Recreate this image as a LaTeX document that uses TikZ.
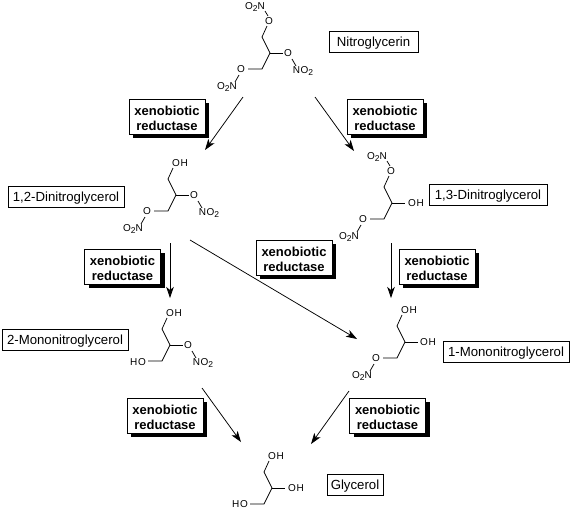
\documentclass[tikz,border=0pt]{standalone}
\usepackage{fontspec}
\setmainfont{Liberation Sans}
\usetikzlibrary{arrows.meta,shadows}
\newcommand{\subtwo}{\raisebox{-2.2pt}{\fontsize{8.5}{8.5}\selectfont 2}}
\newcommand{\otwon}{O\subtwo N}
\newcommand{\notwo}{NO\subtwo}
\tikzset{
  bond/.style={line width=0.75pt,line join=miter},
  atom/.style={inner sep=0pt,font=\fontsize{10}{10}\selectfont\addfontfeature{LetterSpace=6}},
  namebox/.style={draw=black,line width=0.8pt,fill=white,inner sep=0pt,text height=12pt,text depth=3pt,font=\fontsize{13.2}{13.2}\selectfont},
  enzyme/.style={draw=black,line width=0.8pt,fill=white,inner sep=0pt,minimum width=76pt,minimum height=35pt,align=center,
    text height=28pt,text depth=0pt,
    font=\fontsize{13}{15}\bfseries\selectfont,
    drop shadow={shadow xshift=4pt,shadow yshift=-4pt,fill=black,opacity=1}},
  react/.style={line width=0.75pt,-{Stealth[length=11pt,width=7.5pt,inset=3pt]}}
}
% glycerol skeleton: #1 name, centre at (#2,#3)
\newcommand{\molskel}[3]{%
  \begin{scope}[shift={(#2,#3)}]
    \coordinate (#1-c) at (0,0);
    \coordinate (#1-t) at (-8,-16);
    \coordinate (#1-u) at (-3,-27);
    \coordinate (#1-r) at (13,0);
    \coordinate (#1-l) at (-8,16);
    \coordinate (#1-w) at (-22,16);
    \draw[bond] (#1-u) -- (#1-t) -- (#1-c) -- (#1-l) -- (#1-w);
    \draw[bond] (#1-c) -- (#1-r);
  \end{scope}}
% top O-NO2
\newcommand{\topnitro}[1]{%
  \node[atom] (#1-to) at ([shift={(2,-5)}]#1-u) {O};
  \node[atom] (#1-tn) at ([shift={(-12,-19)}]#1-u) {\otwon};
  \coordinate (#1-tb1) at ([shift={(-1,-5)}]#1-to.center);
  \coordinate (#1-tb2) at ([shift={(-4,-10)}]#1-to.center);
  \draw[bond] (#1-tb1) -- (#1-tb2);}
% lower-left O-NO2
\newcommand{\leftnitro}[1]{%
  \node[atom] (#1-wo) at ([shift={(-7,0)}]#1-w) {O};
  \node[atom] (#1-wn) at ([shift={(-21,18)}]#1-w) {\otwon};
  \coordinate (#1-wb1) at ([shift={(-2,6)}]#1-wo.center);
  \coordinate (#1-wb2) at ([shift={(-6,13)}]#1-wo.center);
  \draw[bond] (#1-wb1) -- (#1-wb2);}
% right O-NO2
\newcommand{\rightnitro}[1]{%
  \node[atom] (#1-ro) at ([shift={(5,0)}]#1-r) {O};
  \node[atom] (#1-rn) at ([shift={(20,18)}]#1-r) {\notwo};
  \coordinate (#1-rb1) at ([shift={(4,6)}]#1-ro.center);
  \coordinate (#1-rb2) at ([shift={(8,13)}]#1-ro.center);
  \draw[bond] (#1-rb1) -- (#1-rb2);}
\begin{document}
\begin{tikzpicture}[x=1pt,y=-1pt]
\useasboundingbox[fill=white] (0,0) rectangle (570,509);

% Nitroglycerin
\molskel{ng}{270}{53}
\topnitro{ng}\rightnitro{ng}\leftnitro{ng}
% 1,2-Dinitroglycerol
\molskel{dd}{176}{195}
\node[atom] (dd-oh) at ([shift={(7,-5)}]dd-u) {OH};
\rightnitro{dd}\leftnitro{dd}
% 1,3-Dinitroglycerol
\molskel{dt}{392}{203}
\topnitro{dt}\leftnitro{dt}
\node[atom] (dt-oh) at ([shift={(11,0)}]dt-r) {OH};
% 2-Mononitroglycerol
\molskel{mt}{170}{345}
\node[atom] (mt-oh) at ([shift={(7,-5)}]mt-u) {OH};
\rightnitro{mt}
\node[atom] (mt-ho) at ([shift={(-10,1)}]mt-w) {HO};
% 1-Mononitroglycerol
\molskel{mo}{405}{342}
\node[atom] (mo-oh) at ([shift={(7,-5)}]mo-u) {OH};
\node[atom] (mo-or) at ([shift={(10,0)}]mo-r) {OH};
\leftnitro{mo}
% Glycerol
\molskel{gl}{272}{488}
\node[atom] (gl-oh) at ([shift={(7,-5)}]gl-u) {OH};
\node[atom] (gl-or) at ([shift={(11,0)}]gl-r) {OH};
\node[atom] (gl-ho) at ([shift={(-10,0)}]gl-w) {HO};

% compound names
\node[namebox,minimum width=89pt,minimum height=21pt] (n1) at (373.5,41.5) {Nitroglycerin};
\node[namebox,minimum width=116pt,minimum height=21pt] (n2) at (66,196.5) {1,2-Dinitroglycerol};
\node[namebox,minimum width=118pt,minimum height=21pt] (n3) at (488,194.5) {1,3-Dinitroglycerol};
\node[namebox,minimum width=126pt,minimum height=21pt] (n4) at (65,339.5) {2-Mononitroglycerol};
\node[namebox,minimum width=126pt,minimum height=21pt] (n5) at (506,351.5) {1-Mononitroglycerol};
\node[namebox,minimum width=56pt,minimum height=21pt] (n6) at (355,484.5) {Glycerol};

% enzymes
\node[enzyme] (e1) at (167,116.5) {xenobiotic\\reductase};
\node[enzyme] (e2) at (385,116.5) {xenobiotic\\reductase};
\node[enzyme] (e3) at (122.5,266.5) {xenobiotic\\reductase};
\node[enzyme] (e4) at (294,257.5) {xenobiotic\\reductase};
\node[enzyme] (e5) at (437,266.5) {xenobiotic\\reductase};
\node[enzyme] (e6) at (165,415.5) {xenobiotic\\reductase};
\node[enzyme] (e7) at (387.5,415.5) {xenobiotic\\reductase};

% reaction arrows
\coordinate (a1s) at (243,97);  \coordinate (a1e) at (205,150);
\coordinate (a2s) at (315,97);  \coordinate (a2e) at (354,151);
\coordinate (a3s) at (170,243); \coordinate (a3e) at (170,298);
\coordinate (a4s) at (190,240); \coordinate (a4e) at (357,339);
\coordinate (a5s) at (391,243); \coordinate (a5e) at (391,298);
\coordinate (a6s) at (202,388); \coordinate (a6e) at (241,442);
\coordinate (a7s) at (349,391); \coordinate (a7e) at (311,444);
\draw[react] (a1s) -- (a1e);
\draw[react] (a2s) -- (a2e);
\draw[react] (a3s) -- (a3e);
\draw[react] (a4s) -- (a4e);
\draw[react] (a5s) -- (a5e);
\draw[react] (a6s) -- (a6e);
\draw[react] (a7s) -- (a7e);
\end{tikzpicture}
\end{document}
